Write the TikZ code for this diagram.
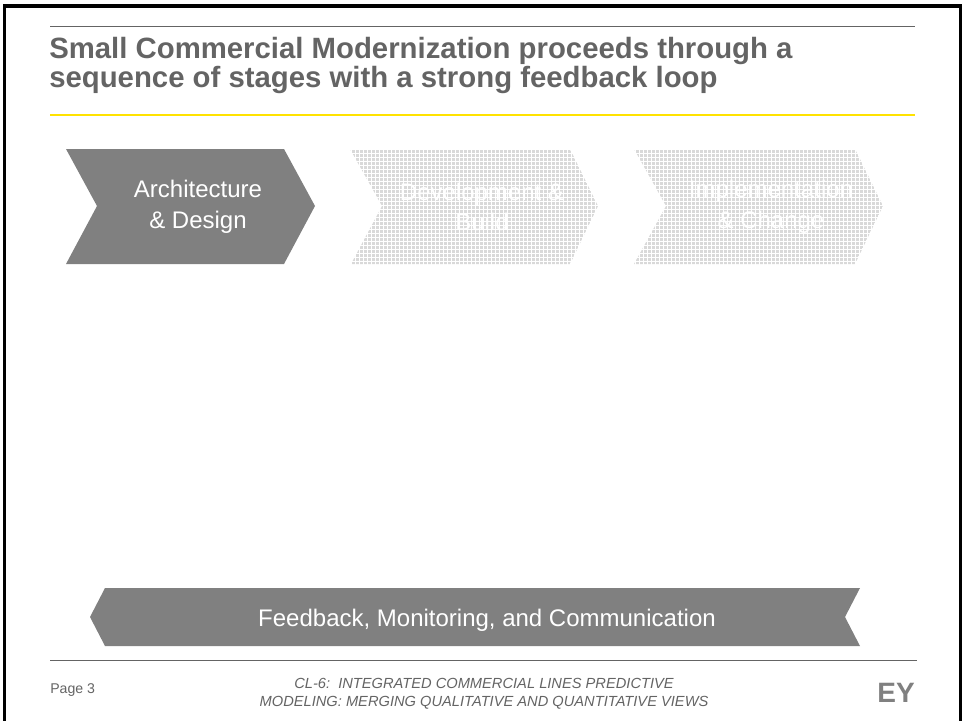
\documentclass[tikz,border=0pt]{standalone}
\usepackage{fontspec}
\setmainfont{Liberation Sans}
\usetikzlibrary{patterns}
\pgfdeclarepatternformonly{stagedots}{\pgfqpoint{-0.1pt}{-0.1pt}}{\pgfqpoint{3.1pt}{3.1pt}}{\pgfqpoint{3pt}{3pt}}{
  \pgfpathrectangle{\pgfqpoint{0.3pt}{0.3pt}}{\pgfqpoint{2pt}{2pt}}
  \pgfusepath{fill}
}
\definecolor{eygray}{RGB}{128,128,128}
\definecolor{eytext}{RGB}{100,100,100}
\definecolor{eyyellow}{RGB}{255,226,0}
\tikzset{
  stagelabel/.style={align=center,text=white,font=\fontsize{18}{23}\selectfont},
  stageghost/.style={pattern=stagedots,pattern color=gray!30},
  footlabel/.style={text=eytext,font=\fontsize{10.6}{13.5}\selectfont},
  rulegray/.style={draw=eytext,line width=0.75pt}
}
\begin{document}
\begin{tikzpicture}[x=0.75pt,y=-0.75pt]
  \useasboundingbox (0,0) rectangle (965,721);
  \draw[black,line width=2.5pt] (4.5,725)--(4.5,6)--(960.2,6)--(960.2,725);
  % header
  \coordinate (headl) at (50,26);
  \coordinate (headr) at (915,26);
  \draw[rulegray] (headl)--(headr);
  \node[anchor=north west,inner sep=0pt,align=left,text=eytext,
    font=\fontsize{22}{22}\selectfont\bfseries] (title) at (49,37)
    {Small Commercial Modernization proceeds through a\\sequence of stages with a strong feedback loop};
  \coordinate (yell) at (50,115);
  \coordinate (yelr) at (915,115);
  \draw[eyyellow,line width=1.5pt] (yell)--(yelr);
  % stages
  \fill[eygray] (66,149)--(284,149)--(315,206)--(284,264)--(66,264)--(97,206)--cycle;
  \path[stageghost] (350,149)--(570,149)--(598,206)--(570,264)--(351,264)--(382,206)--cycle;
  \path[stageghost] (634,149)--(855,149)--(883,206)--(855,264)--(634,264)--(666,206)--cycle;
  \node[stagelabel] (archi) at (198,207) {Architecture\\\& Design};
  \node[stagelabel] (build) at (482,207) {Development \&\\Build};
  \node[stagelabel] (impl) at (771,207) {Implementation\\\& Change};
  % feedback
  \fill[eygray] (105,588)--(860,588)--(845,617)--(860,646)--(105,646)--(90,617)--cycle;
  \node[stagelabel] (feedback) at (487,620) {Feedback, Monitoring, and Communication};
  % footer
  \coordinate (footl) at (50,660);
  \coordinate (footr) at (917,660);
  \draw[rulegray] (footl)--(footr);
  \node[footlabel,anchor=west,inner sep=0pt] (page) at (50,690) {Page 3};
  \node[footlabel,align=center,font=\fontsize{11}{13.5}\selectfont\itshape] (foot) at (484,694)
    {CL-6:\ \ INTEGRATED COMMERCIAL LINES PREDICTIVE\\MODELING: MERGING QUALITATIVE AND QUANTITATIVE VIEWS};
  \node[anchor=east,inner sep=0pt,text=eygray,font=\fontsize{21}{21}\selectfont\bfseries] (logo) at (915,693) {EY};
\end{tikzpicture}
\end{document}
